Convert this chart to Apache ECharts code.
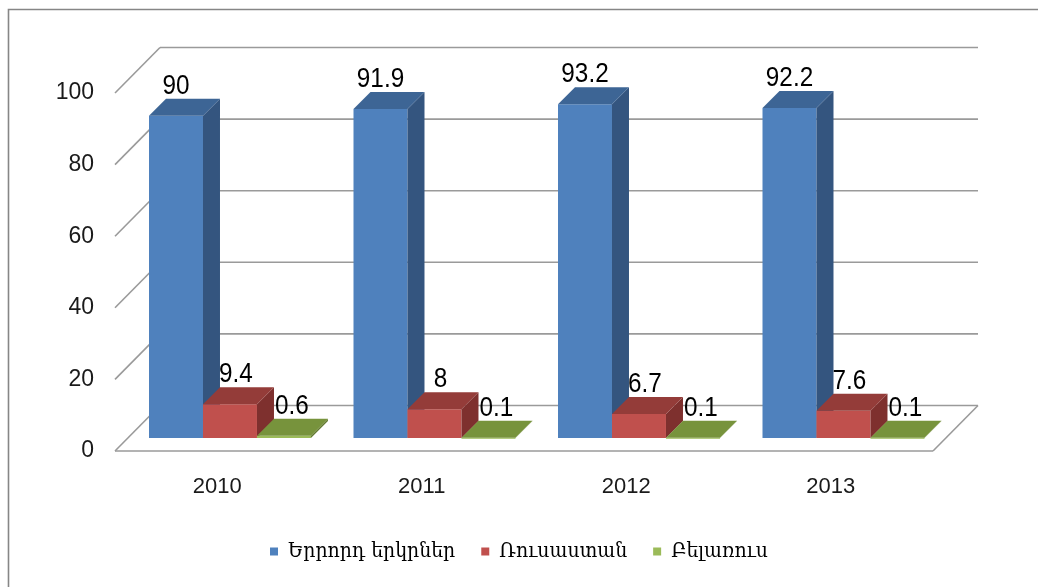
<!DOCTYPE html>
<html>
<head>
<meta charset="utf-8">
<script src="https://cdn.jsdelivr.net/npm/echarts@6/dist/echarts.min.js"></script>
<style>
html,body{margin:0;padding:0;background:#fff;}
#chart{width:1038px;height:587px;}
</style>
</head>
<body>
<div id="chart"></div>
<script>
// ---- data ----
const categories = ['2010', '2011', '2012', '2013'];
const seriesNames = ['Երրորդ երկրներ', 'Ռուսաստան', 'Բելառուս'];
const thirdCountries = [90, 91.9, 93.2, 92.2];
const russia = [9.4, 8, 6.7, 7.6];
const belarus = [0.6, 0.1, 0.1, 0.1];
const yTicks = [0, 20, 40, 60, 80, 100];

// ---- style constants ----
const NUM_FONT = '"Liberation Sans Narrow", "Liberation Sans", sans-serif';
const LEGEND_FONT = '"DejaVu Serif Condensed", "DejaVu Sans Condensed", "DejaVu Sans", sans-serif';
const FRONT_DX = -13, FRONT_DY = 13;   // floor front edge relative to bar plane
const BACK_DX = 32, BACK_DY = -32.5;   // back wall relative to bar plane
const BAR_DEPTH = 17;
const GAP_RATIO = 0.1027, BAR_RATIO = 0.264;
const GRID_COLOR = '#9a9a9a';

const palettes = [
  {front: '#4f81bd', top: '#3d6595', side: '#34557f', labelDx: 0},
  {front: '#c0504d', top: '#943c39', side: '#7e302e', labelDx: 6},
  {front: '#9bbb59', top: '#77933c', side: '#627a30', labelDx: 8}
];

function makeBarRender(k) {
  const p = palettes[k];
  return function (params, api) {
    const ci = api.value(0), v = api.value(1);
    const bw = api.size([1, 0])[0];
    const c0 = api.coord([ci, 0]);
    const cT = api.coord([ci, v]);
    const x0 = c0[0] - bw / 2 + bw * GAP_RATIO + k * bw * BAR_RATIO;
    const w = bw * BAR_RATIO;
    const x1 = x0 + w;
    const yb = c0[1], yt = cT[1];
    const d = BAR_DEPTH;
    return {
      type: 'group',
      children: [
        {type: 'rect', shape: {x: x0, y: yt, width: w, height: Math.max(yb - yt, 1)}, style: {fill: p.front}},
        {type: 'polygon', shape: {points: [[x1, yt], [x1 + d, yt - d], [x1 + d, yb - d], [x1, yb]]}, style: {fill: p.side}},
        {type: 'polygon', shape: {points: [[x0, yt], [x0 + d, yt - d], [x1 + d, yt - d], [x1, yt]]}, style: {fill: p.top}},
        {type: 'text', z2: 10, x: (x0 + x1) / 2 + p.labelDx, y: yt - d + 1, scaleX: 0.9,
          style: {text: String(v), x: 0, y: 0,
          align: 'center', verticalAlign: 'bottom', fontSize: 27, fontFamily: NUM_FONT, fill: '#000'}}
      ]
    };
  };
}

function renderWalls(params, api) {
  const cs = params.coordSys;
  const fx0 = cs.x + FRONT_DX, fx1 = cs.x + cs.width + FRONT_DX;
  const bx0 = cs.x + BACK_DX, bx1 = cs.x + cs.width + BACK_DX;
  const lineStyle = {stroke: GRID_COLOR, lineWidth: 1.6, fill: null};
  const children = [];
  yTicks.forEach(function (t) {
    const y = api.coord([0, t])[1];
    const yf = y + FRONT_DY, yb = y + BACK_DY;
    children.push({type: 'line', shape: {x1: bx0, y1: yb, x2: bx1, y2: yb}, style: lineStyle});
    children.push({type: 'line', shape: {x1: fx0, y1: yf, x2: bx0, y2: yb}, style: lineStyle});
    if (t === 0) {
      children.push({type: 'line', shape: {x1: fx0, y1: yf, x2: fx1, y2: yf}, style: lineStyle});
      children.push({type: 'line', shape: {x1: fx1, y1: yf, x2: bx1, y2: yb}, style: lineStyle});
    }
  });
  return {type: 'group', children: children};
}

const seriesData = [thirdCountries, russia, belarus];

const chart = echarts.init(document.getElementById('chart'));
chart.setOption({
  animation: false,
  backgroundColor: '#ffffff',
  graphic: [{
    type: 'rect', left: 6, top: 7, z: -10,
    shape: {width: 1100, height: 700},
    style: {fill: null, stroke: '#868686', lineWidth: 1.6}
  }],
  legend: {
    data: seriesNames,
    top: 536, left: 'center',
    icon: 'rect', itemWidth: 8, itemHeight: 8, itemGap: 26,
    textStyle: {fontFamily: LEGEND_FONT, fontSize: 21, color: '#000', padding: [0, 0, 0, 5]}
  },
  grid: [
    {left: 128, width: 818, top: 80, height: 358},   // bar plane
    {left: 115, width: 818, top: 93, height: 358}    // front plane (axis labels)
  ],
  xAxis: [
    {type: 'category', gridIndex: 0, data: categories, show: false},
    {type: 'category', gridIndex: 1, data: categories,
      axisLine: {show: false}, axisTick: {show: false},
      axisLabel: {margin: 25, fontSize: 22, fontFamily: NUM_FONT, color: '#1a1a1a'}}
  ],
  yAxis: [
    {type: 'value', gridIndex: 0, min: 0, max: 100, interval: 20, show: false},
    {type: 'value', gridIndex: 1, min: 0, max: 100, interval: 20,
      axisLine: {show: false}, axisTick: {show: false}, splitLine: {show: false},
      axisLabel: {margin: 21, fontSize: 23, fontFamily: NUM_FONT, color: '#1a1a1a'}}
  ],
  series: [
    {type: 'custom', name: 'walls', xAxisIndex: 0, yAxisIndex: 0, silent: true, z: 1,
      data: [[0, 0]], renderItem: renderWalls}
  ].concat(seriesData.map(function (arr, k) {
    return {
      type: 'custom', name: seriesNames[k], xAxisIndex: 0, yAxisIndex: 0, z: 2,
      itemStyle: {color: palettes[k].front},
      data: arr.map(function (v, i) { return [i, v]; }),
      encode: {x: 0, y: 1},
      renderItem: makeBarRender(k)
    };
  }))
});
</script>
</body>
</html>
